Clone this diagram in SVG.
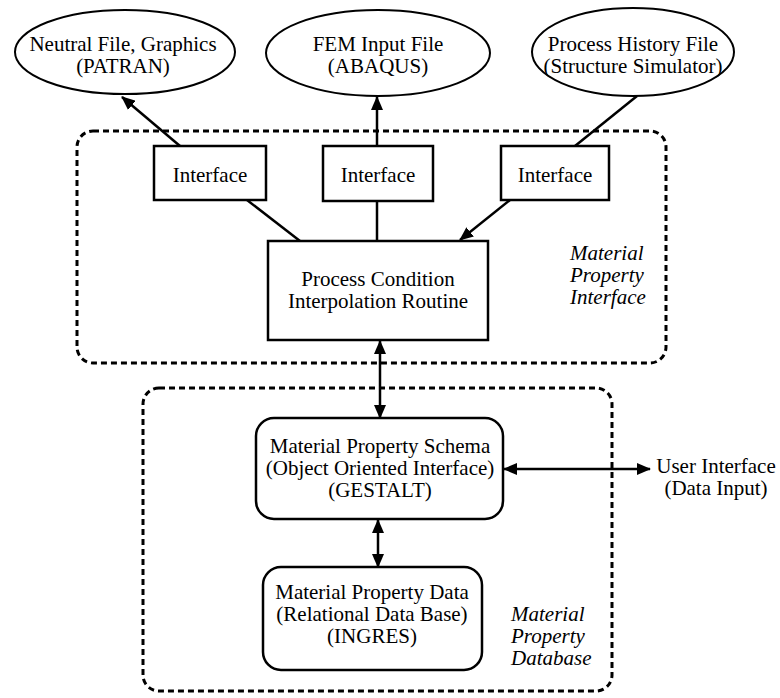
<svg xmlns="http://www.w3.org/2000/svg" width="780" height="698" viewBox="0 0 780 698">
<defs>
<marker id="ah" markerUnits="userSpaceOnUse" markerWidth="14" markerHeight="12" refX="13" refY="6" orient="auto-start-reverse">
<path d="M0,0 L14,6 L0,12 Z" fill="#000"/>
</marker>
</defs>
<style>
text{font-family:"Liberation Serif","Times New Roman",serif;font-size:21px;fill:#000;}
.c{text-anchor:middle;}
.i{font-style:italic;}
.box{fill:#fff;stroke:#000;stroke-width:2.5;}
.ell{fill:#fff;stroke:#000;stroke-width:2;}
.dash{fill:none;stroke:#000;stroke-width:3;stroke-dasharray:6 4;}
.ln{fill:none;stroke:#000;stroke-width:2.5;}
</style>
<rect width="780" height="698" fill="#fff"/>
<g id="group-interface">
<rect class="dash" x="77" y="131" width="589" height="232" rx="16"/>
<text class="i" x="570" y="260">Material</text>
<text class="i" x="570" y="282">Property</text>
<text class="i" x="570" y="304">Interface</text>
</g>
<g id="group-database">
<rect class="dash" x="143" y="388" width="469" height="303" rx="16"/>
<text class="i" x="511" y="621">Material</text>
<text class="i" x="511" y="643">Property</text>
<text class="i" x="511" y="665">Database</text>
</g>
<g id="connectors">
<line class="ln" x1="180" y1="146" x2="122" y2="97" marker-end="url(#ah)"/>
<line class="ln" x1="377" y1="146" x2="377" y2="97" marker-end="url(#ah)"/>
<line class="ln" x1="637" y1="96" x2="575" y2="146"/>
<line class="ln" x1="247" y1="200" x2="300" y2="241"/>
<line class="ln" x1="377" y1="201" x2="377" y2="241"/>
<line class="ln" x1="510" y1="200" x2="460" y2="240" marker-end="url(#ah)"/>
<line class="ln" x1="380" y1="341" x2="380" y2="418" marker-start="url(#ah)" marker-end="url(#ah)"/>
<line class="ln" x1="378" y1="520" x2="378" y2="567" marker-start="url(#ah)" marker-end="url(#ah)"/>
<line class="ln" x1="504" y1="469" x2="650" y2="469" marker-start="url(#ah)" marker-end="url(#ah)"/>
</g>
<g id="ellipse-patran">
<ellipse class="ell" cx="125" cy="52" rx="110" ry="42"/>
<text class="c" x="123" y="51">Neutral File, Graphics</text>
<text class="c" x="123" y="73">(PATRAN)</text>
</g>
<g id="ellipse-abaqus">
<ellipse class="ell" cx="378" cy="53" rx="112" ry="43"/>
<text class="c" x="378" y="51">FEM Input File</text>
<text class="c" x="378" y="73">(ABAQUS)</text>
</g>
<g id="ellipse-history">
<ellipse class="ell" cx="633" cy="52" rx="101" ry="44"/>
<text class="c" x="633" y="51">Process History File</text>
<text class="c" x="633" y="73">(Structure Simulator)</text>
</g>
<g id="interface-1">
<rect class="box" x="154" y="146" width="112" height="54"/>
<text class="c" x="210" y="182">Interface</text>
</g>
<g id="interface-2">
<rect class="box" x="323" y="146" width="110" height="55"/>
<text class="c" x="378" y="182">Interface</text>
</g>
<g id="interface-3">
<rect class="box" x="501" y="146" width="108" height="54"/>
<text class="c" x="555" y="182">Interface</text>
</g>
<g id="process-condition">
<rect class="box" x="268" y="241" width="220" height="99"/>
<text class="c" x="378" y="286">Process Condition</text>
<text class="c" x="378" y="308">Interpolation Routine</text>
</g>
<g id="schema">
<rect class="box" x="256" y="418" width="247" height="101" rx="18"/>
<text class="c" x="380" y="453">Material Property Schema</text>
<text class="c" x="380" y="475">(Object Oriented Interface)</text>
<text class="c" x="380" y="497">(GESTALT)</text>
</g>
<g id="data">
<rect class="box" x="263" y="567" width="219" height="103" rx="18"/>
<text class="c" x="372" y="599">Material Property Data</text>
<text class="c" x="372" y="621">(Relational Data Base)</text>
<text class="c" x="372" y="643">(INGRES)</text>
</g>
<g id="user-interface">
<text class="c" x="716" y="473">User Interface</text>
<text class="c" x="716" y="495">(Data Input)</text>
</g>
</svg>
